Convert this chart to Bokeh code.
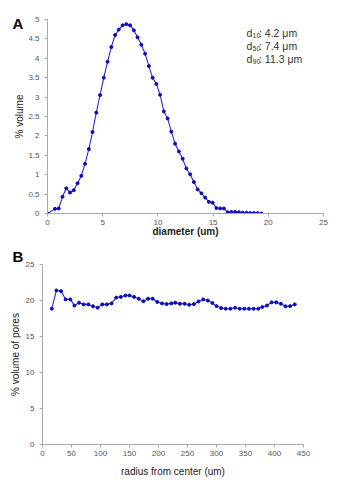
from bokeh.plotting import figure
from bokeh.models import Range1d, FixedTicker, CustomJSTickFormatter, Label, ColumnDataSource, Title
from bokeh.embed import file_html
from bokeh.resources import INLINE

# ---- Panel A: particle size distribution ----
diameter_um = [0, 0.68, 1.02, 1.36, 1.70, 2.04, 2.38, 2.72, 3.06, 3.40, 3.74, 4.08, 4.42, 4.76,
               5.10, 5.44, 5.78, 6.12, 6.46, 6.80, 7.14, 7.48, 7.82, 8.16, 8.50, 8.84, 9.18,
               9.52, 9.86, 10.20, 10.54, 10.88, 11.22, 11.56, 11.90, 12.24, 12.58, 12.92,
               13.26, 13.60, 13.94, 14.28, 14.62, 14.96, 15.30, 15.64, 15.98, 16.32, 16.66,
               17.00, 17.34, 17.68, 18.02, 18.36, 18.70, 19.04, 19.38]
volume_pct = [0, 0.12, 0.13, 0.43, 0.65, 0.54, 0.60, 0.78, 0.97, 1.28, 1.66, 2.10, 2.60, 3.05,
              3.50, 3.91, 4.29, 4.60, 4.74, 4.85, 4.88, 4.85, 4.72, 4.54, 4.35, 4.12, 3.80,
              3.50, 3.34, 3.06, 2.63, 2.45, 2.11, 1.80, 1.60, 1.41, 1.16, 1.01, 0.81, 0.62,
              0.52, 0.41, 0.30, 0.28, 0.14, 0.13, 0.13, 0.03, 0.04, 0.04, 0.03, 0.02, 0.02,
              0.01, 0.01, 0.01, 0.0]
x_ticks_a = [0, 5, 10, 15, 20, 25]
y_ticks_a = [0, 0.5, 1, 1.5, 2, 2.5, 3, 3.5, 4, 4.5, 5]
stat_subs = ["10", "50", "90"]
stat_vals = ["4.2", "7.4", "11.3"]

# ---- Panel B: pore volume vs radius ----
radius_um = [16, 24, 32, 40, 48, 55, 63, 71, 79, 87, 95, 103, 111, 119, 127, 135, 143, 150,
             158, 166, 174, 182, 190, 198, 206, 214, 222, 229, 237, 245, 253, 261, 269, 277,
             285, 293, 300, 308, 316, 324, 332, 340, 348, 356, 364, 372, 379, 387, 395, 403,
             411, 419, 427, 435]
pore_volume_pct = [18.86, 21.4, 21.3, 20.15, 20.15, 19.3, 19.7, 19.46, 19.46, 19.2, 19.0, 19.46,
                   19.46, 19.6, 20.4, 20.5, 20.7, 20.7, 20.5, 20.25, 19.9, 20.25, 20.25, 19.8,
                   19.6, 19.5, 19.6, 19.7, 19.55, 19.55, 19.4, 19.5, 19.87, 20.15, 20.0, 19.64,
                   19.22, 18.95, 18.86, 18.86, 19.0, 18.86, 18.86, 18.86, 18.86, 18.86, 19.1,
                   19.3, 19.74, 19.74, 19.55, 19.2, 19.22, 19.46]
x_ticks_b = [0, 50, 100, 150, 200, 250, 300, 350, 400, 450]
y_ticks_b = [0, 5, 10, 15, 20, 25]

FONT = "Liberation Sans"
LINE_C = "#2a2ad8"
PT_C = "#0c0cb8"
AX_C = "#a8a8a8"
TICK_C = "#555555"


def style(p, xt, yt, xlabel, ylabel, xbold, xl_standoff, yl_standoff):
    p.xaxis.ticker = FixedTicker(ticks=xt)
    p.yaxis.ticker = FixedTicker(ticks=yt)
    p.yaxis.formatter = CustomJSTickFormatter(code="return tick.toString();")
    p.xaxis.formatter = CustomJSTickFormatter(code="return tick.toString();")
    p.xgrid.visible = False
    p.ygrid.visible = False
    p.outline_line_color = None
    for ax in (p.xaxis[0], p.yaxis[0]):
        ax.axis_line_color = AX_C
        ax.axis_line_width = 1
        ax.major_tick_line_color = AX_C
        ax.major_tick_in = 0
        ax.major_tick_out = 3
        ax.minor_tick_line_color = None
        ax.major_label_text_font = FONT
        ax.major_label_text_font_size = "8px"
        ax.major_label_text_color = TICK_C
        ax.axis_label_text_font = FONT
        ax.axis_label_text_font_size = "10px"
        ax.axis_label_text_color = "#222222"
        ax.axis_label_text_font_style = "normal"
    p.xaxis.axis_label = xlabel
    p.yaxis.axis_label = ylabel
    if xbold:
        p.xaxis.axis_label_text_font_style = "bold"
    p.xaxis.major_label_standoff = 3
    p.xaxis.axis_label_standoff = xl_standoff
    p.yaxis.major_label_standoff = 5
    p.yaxis.axis_label_standoff = yl_standoff


# Figure A
pA = figure(width=339, height=244, output_backend="svg", toolbar_location=None,
            x_range=Range1d(0, 25), y_range=Range1d(0, 5),
            min_border_left=47, min_border_right=16, min_border_top=19, min_border_bottom=31)
style(pA, x_ticks_a, y_ticks_a, "diameter (um)", "% volume", True, -2, 0)
srcA = ColumnDataSource(dict(x=diameter_um, y=volume_pct))
pA.line("x", "y", source=srcA, line_color=LINE_C, line_width=1.1)
pA.scatter("x", "y", source=srcA, size=3, fill_color=PT_C, line_color=PT_C)

pA.add_layout(Label(x=12, y=190, x_units="screen", y_units="screen", text="A",
                    text_font=FONT, text_font_size="15px", text_font_style="bold",
                    text_color="#000000", text_baseline="alphabetic"), "left")
row_y = [181, 167.7, 154.3]
for sub, val, yy in zip(stat_subs, stat_vals, row_y):
    pA.add_layout(Label(x=199, y=yy, x_units="screen", y_units="screen", text="d",
                        text_font=FONT, text_font_size="10.5px", text_color="#333333",
                        text_baseline="alphabetic"))
    pA.add_layout(Label(x=205, y=yy - 2.5, x_units="screen", y_units="screen", text=sub,
                        text_font=FONT, text_font_size="7px", text_color="#333333",
                        text_baseline="alphabetic"))
    pA.add_layout(Label(x=211.5, y=yy, x_units="screen", y_units="screen",
                        text=": " + val + " \u03bcm",
                        text_font=FONT, text_font_size="10.5px", text_color="#333333",
                        text_baseline="alphabetic"))

# Figure B
pB = figure(width=339, height=236, output_backend="svg", toolbar_location=None,
            x_range=Range1d(0, 450), y_range=Range1d(0, 25),
            min_border_left=42, min_border_right=36, min_border_top=20, min_border_bottom=36)
style(pB, x_ticks_b, y_ticks_b, "radius from center (um)", "% volume of pores", False, 7, 2)
srcB = ColumnDataSource(dict(x=radius_um, y=pore_volume_pct))
pB.line("x", "y", source=srcB, line_color=LINE_C, line_width=1.1)
pB.scatter("x", "y", source=srcB, size=3, fill_color=PT_C, line_color=PT_C)
pB.add_layout(Title(text="B", align="left", offset=-30, standoff=0,
                    text_font=FONT, text_font_size="15px", text_font_style="bold",
                    text_color="#000000"), "above")

open("out.html", "w").write(file_html([pA, pB], INLINE))
